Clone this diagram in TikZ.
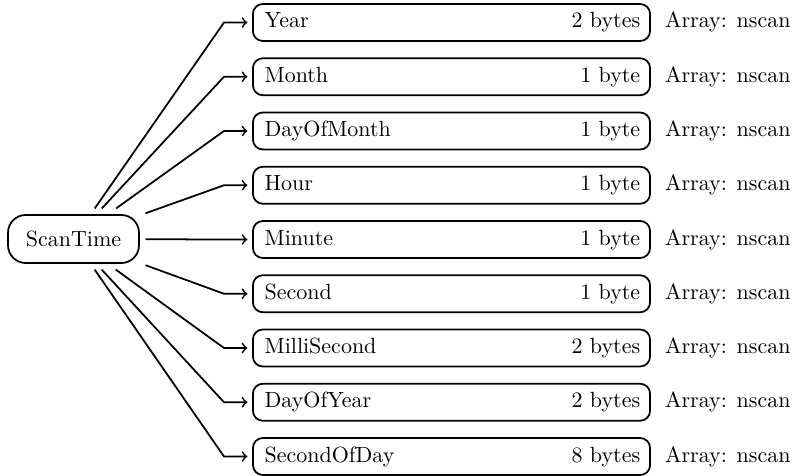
\documentclass[tikz,border=0pt]{standalone}
\begin{document}
\begin{tikzpicture}[x=0.4545pt,y=-0.4545pt,
  every node/.style={font=\normalsize},
  root/.style={draw,thick,rounded corners=8pt,minimum width=59.5pt,minimum height=21.8pt,inner sep=0pt,outer sep=3pt},
  field/.style={draw,thick,rounded corners=4.5pt,minimum width=180.5pt,minimum height=16.8pt,inner sep=0pt,outer sep=2.5pt},
  txt/.style={inner sep=0pt,outer sep=0pt,text height=7pt,text depth=2pt},
  conn/.style={thick,->}]
\useasboundingbox (0,0) rectangle (798,476);
\node[root] (st) at (73.5,239) {ScanTime};
\foreach \i/\name/\size in {0/Year/2 bytes,1/Month/1 byte,2/DayOfMonth/1 byte,3/Hour/1 byte,4/Minute/1 byte,5/Second/1 byte,6/MilliSecond/2 bytes,7/DayOfYear/2 bytes,8/SecondOfDay/8 bytes}{
  \pgfmathsetmacro{\yy}{22.5+54.25*\i}
  \node[field] (b\i) at (451.5,\yy) {};
  \node[txt,anchor=west] (n\i) at ([xshift=7.8pt]b\i.west) {\name};
  \node[txt,anchor=east] (s\i) at ([xshift=-7pt]b\i.east) {\size};
  \node[txt,anchor=west] (a\i) at (665,\yy) {Array: nscan};
  \coordinate (c\i) at (224,\yy);
  \draw[conn] (st) -- (c\i) -- (b\i);
}
\end{tikzpicture}
\end{document}
